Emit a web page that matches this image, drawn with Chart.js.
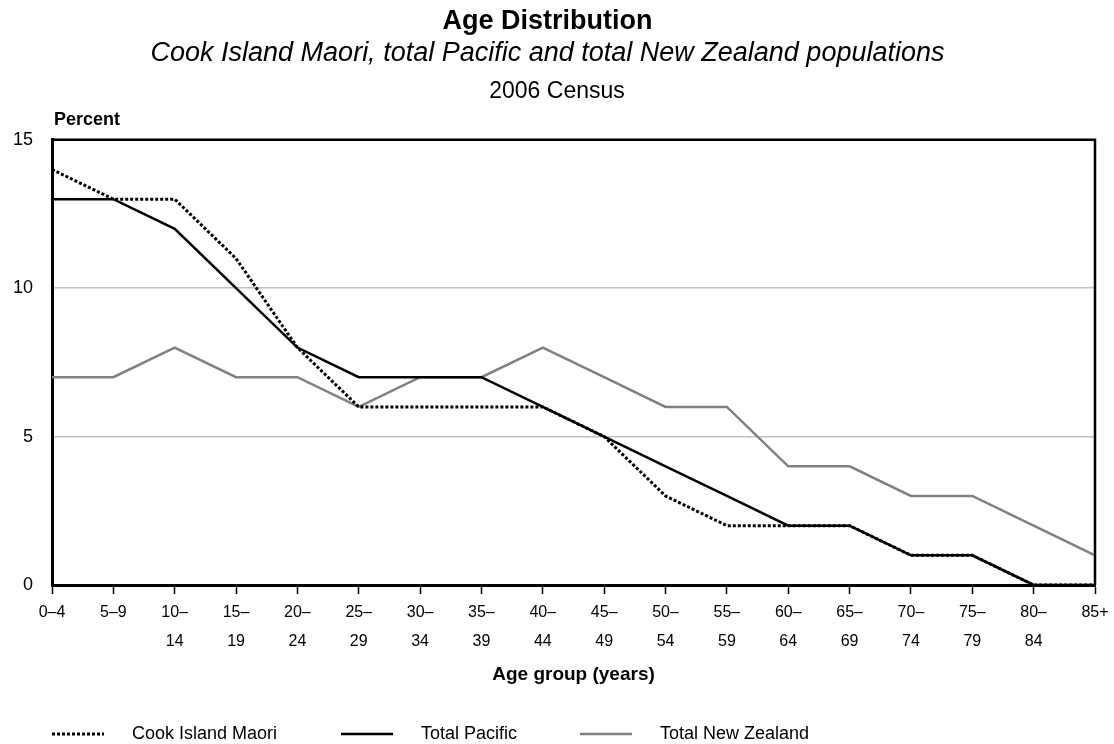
<!DOCTYPE html>
<html>
<head>
<meta charset="utf-8">
<script src="https://cdn.jsdelivr.net/npm/chart.js@4"></script>
<style>
  html, body { margin: 0; padding: 0; background: #fff; }
  #wrap { width: 1114px; height: 744px; }
</style>
</head>
<body>
<div id="wrap"><canvas id="ageChart"></canvas></div>
<script>
// age groups (two-line tick labels)
const ageGroups = [
  ['0–4'], ['5–9'], ['10–', '14'], ['15–', '19'], ['20–', '24'], ['25–', '29'],
  ['30–', '34'], ['35–', '39'], ['40–', '44'], ['45–', '49'], ['50–', '54'],
  ['55–', '59'], ['60–', '64'], ['65–', '69'], ['70–', '74'], ['75–', '79'],
  ['80–', '84'], ['85+']
];
const cookIslandMaori = [14, 13, 13, 11, 8, 6, 6, 6, 6, 5, 3, 2, 2, 2, 1, 1, 0, 0];
const totalPacific    = [13, 13, 12, 10, 8, 7, 7, 7, 6, 5, 4, 3, 2, 2, 1, 1, 0, 0];
const totalNZ         = [7, 7, 8, 7, 7, 6, 7, 7, 8, 7, 6, 6, 4, 4, 3, 3, 2, 1];
const yTicks = [0, 5, 10, 15];

const FONT = 'Arial, "Liberation Sans", Helvetica, sans-serif';

// census line, "Percent" label, top/right frame, legend
const extras = {
  id: 'extras',
  afterDraw(chart) {
    const ctx = chart.ctx;
    const a = chart.chartArea;
    ctx.save();
    ctx.fillStyle = '#000';
    ctx.textAlign = 'center';
    ctx.textBaseline = 'middle';
    ctx.font = '23px ' + FONT;
    ctx.fillText('2006 Census', 557, 92);
    ctx.textAlign = 'left';
    ctx.font = 'bold 18px ' + FONT;
    ctx.fillText('Percent', 54, 120);

    // top and right frame
    ctx.strokeStyle = '#000';
    ctx.lineWidth = 2.5;
    ctx.beginPath();
    ctx.moveTo(a.left, a.top);
    ctx.lineTo(a.right, a.top);
    ctx.lineTo(a.right, a.bottom);
    ctx.stroke();

    // legend
    const legendX = [52, 341, 580];
    const legendY = 734;
    ctx.font = '18px ' + FONT;
    chart.data.datasets.forEach((ds, i) => {
      ctx.strokeStyle = ds.borderColor;
      ctx.lineWidth = ds.borderWidth;
      ctx.setLineDash(ds.borderDash || []);
      ctx.beginPath();
      ctx.moveTo(legendX[i], legendY);
      ctx.lineTo(legendX[i] + 52, legendY);
      ctx.stroke();
      ctx.setLineDash([]);
      ctx.fillStyle = '#000';
      ctx.fillText(ds.label, legendX[i] + 80, legendY);
    });
    ctx.restore();
  }
};

new Chart(document.getElementById('ageChart'), {
  type: 'line',
  data: {
    labels: ageGroups,
    datasets: [
      {
        label: 'Cook Island Maori',
        data: cookIslandMaori,
        borderColor: '#000',
        borderWidth: 3,
        borderDash: [3, 2],
        pointRadius: 0,
        tension: 0,
        clip: false
      },
      {
        label: 'Total Pacific',
        data: totalPacific,
        borderColor: '#000',
        borderWidth: 2.5,
        pointRadius: 0,
        tension: 0,
        clip: false
      },
      {
        label: 'Total New Zealand',
        data: totalNZ,
        borderColor: '#808080',
        borderWidth: 2.5,
        pointRadius: 0,
        tension: 0,
        clip: false
      }
    ]
  },
  options: {
    responsive: true,
    maintainAspectRatio: false,
    animation: false,
    layout: { padding: { left: 0, right: 19, top: 0, bottom: 54 } },
    plugins: {
      legend: { display: false },
      tooltip: { enabled: false },
      title: {
        display: true,
        text: 'Age Distribution',
        color: '#000',
        font: { family: FONT, size: 27, weight: 'bold' },
        padding: { top: 5, bottom: 0 }
      },
      subtitle: {
        display: true,
        text: 'Cook Island Maori, total Pacific and total New Zealand populations',
        color: '#000',
        font: { family: FONT, size: 27, style: 'italic' },
        padding: { top: 0, bottom: 70 }
      }
    },
    scales: {
      x: {
        offset: false,
        afterFit: (s) => { s.height = 105; },
        grid: {
          drawOnChartArea: false,
          drawTicks: true,
          tickLength: 9,
          tickColor: '#000',
          tickWidth: 1.5
        },
        border: { display: true, color: '#000', width: 3 },
        ticks: {
          color: '#000',
          padding: 4,
          maxRotation: 0,
          autoSkip: false,
          font: { family: FONT, size: 16, lineHeight: 1.8 }
        },
        title: {
          display: true,
          text: 'Age group (years)',
          color: '#000',
          font: { family: FONT, size: 19, weight: 'bold' },
          padding: { top: 4, bottom: 4 }
        }
      },
      y: {
        min: 0,
        max: 15,
        afterFit: (s) => { s.width = 52; },
        afterBuildTicks: (s) => { s.ticks = yTicks.map(v => ({ value: v })); },
        grid: {
          drawTicks: false,
          color: (c) => (c.tick && (c.tick.value === 0 || c.tick.value === 15)) ? 'rgba(0,0,0,0)' : '#c0c0c0',
          lineWidth: 1.5
        },
        border: { display: true, color: '#000', width: 3 },
        ticks: {
          color: '#000',
          padding: 19,
          font: { family: FONT, size: 18 }
        }
      }
    }
  },
  plugins: [extras]
});
</script>
</body>
</html>
